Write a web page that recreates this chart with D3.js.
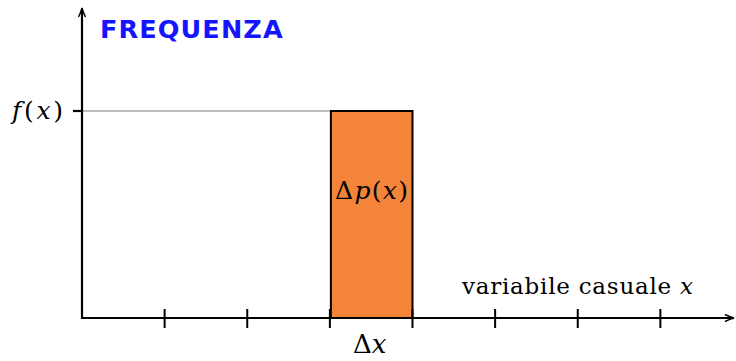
<!DOCTYPE html>
<html>
<head>
<meta charset="utf-8">
<script src="https://cdn.jsdelivr.net/npm/d3@7"></script>
<style>
  html, body { margin: 0; padding: 0; background: #fff; }
  svg { display: block; }
  .serif { font-family: "DejaVu Serif", "Liberation Serif", serif; }
</style>
</head>
<body>
<svg id="chart" width="736" height="361"></svg>
<script>
// Discrete positions along the random variable axis (tick marks)
const xTicks = [1, 2, 3, 4, 5, 6, 7];
// The highlighted interval Δx and its frequency f(x)
const binStart = [3];
const binEnd = [4];
const binFreq = [1];
const yTicks = [1];

const svg = d3.select("#chart");

const x = d3.scaleLinear().domain([0, 8]).range([82, 743]);
const y = d3.scaleLinear().domain([0, 1]).range([318, 111]);

const xAxisEnd = 734, yAxisTop = 8;

// Guide line from the y axis to the top of the bar
svg.append("line")
  .attr("x1", x(0)).attr("x2", x(binStart[0]))
  .attr("y1", y(binFreq[0])).attr("y2", y(binFreq[0]))
  .attr("stroke", "#bdbdbd").attr("stroke-width", 2);

// Bar
svg.selectAll("rect.bin")
  .data(binFreq)
  .join("rect")
  .attr("class", "bin")
  .attr("x", (d, i) => x(binStart[i]) + 1)
  .attr("width", (d, i) => x(binEnd[i]) - x(binStart[i]) - 1)
  .attr("y", d => y(d))
  .attr("height", d => y(0) - y(d))
  .attr("fill", "#f4843a")
  .attr("stroke", "#000")
  .attr("stroke-width", 2);

// Axes
const ax = svg.append("g");
ax.append("line")
  .attr("x1", x(0)).attr("x2", xAxisEnd)
  .attr("y1", y(0)).attr("y2", y(0))
  .attr("stroke", "#000").attr("stroke-width", 2.2);
ax.append("line")
  .attr("x1", x(0)).attr("x2", x(0))
  .attr("y1", y(0) + 1).attr("y2", yAxisTop + 1)
  .attr("stroke", "#000").attr("stroke-width", 2.2);

// Arrow heads
ax.append("path")
  .attr("d", `M${x(0) - 3.5},${yAxisTop + 9} Q${x(0) - 1},${yAxisTop + 4} ${x(0)},${yAxisTop} Q${x(0) + 1},${yAxisTop + 4} ${x(0) + 3.5},${yAxisTop + 9}`)
  .attr("fill", "none").attr("stroke", "#000").attr("stroke-width", 1.4);
ax.append("path")
  .attr("d", `M${xAxisEnd - 9},${y(0) - 3.5} Q${xAxisEnd - 4},${y(0) - 1} ${xAxisEnd},${y(0)} Q${xAxisEnd - 4},${y(0) + 1} ${xAxisEnd - 9},${y(0) + 3.5}`)
  .attr("fill", "none").attr("stroke", "#000").attr("stroke-width", 1.4);

// x ticks (crossing the axis)
ax.selectAll("line.xt")
  .data(xTicks)
  .join("line")
  .attr("class", "xt")
  .attr("x1", d => x(d)).attr("x2", d => x(d))
  .attr("y1", y(0) - 9).attr("y2", y(0) + 10)
  .attr("stroke", "#000").attr("stroke-width", 2);

// y tick and label
ax.selectAll("line.yt")
  .data(yTicks)
  .join("line")
  .attr("class", "yt")
  .attr("x1", x(0) - 9).attr("x2", x(0))
  .attr("y1", d => y(d)).attr("y2", d => y(d))
  .attr("stroke", "#000").attr("stroke-width", 2.2);

const yl = svg.selectAll("text.yl")
  .data(yTicks)
  .join("text")
  .attr("class", "yl serif")
  .attr("x", 12)
  .attr("y", d => y(d) + 8)
  .attr("font-size", 25)
  .attr("textLength", 51)
  .attr("lengthAdjust", "spacing");
yl.append("tspan").attr("font-style", "italic").text("f");
yl.append("tspan").text("(");
yl.append("tspan").attr("font-style", "italic").text("x");
yl.append("tspan").text(")");

// Title
svg.append("text")
  .attr("x", 100).attr("y", 38)
  .attr("font-family", "DejaVu Sans, sans-serif")
  .attr("font-weight", "bold")
  .attr("font-size", 25.5)
  .attr("letter-spacing", 1.1)
  .attr("fill", "#1414ff")
  .text("FREQUENZA");

// Label inside the bar
const pl = svg.append("text")
  .attr("class", "serif")
  .attr("x", 335).attr("y", 199)
  .attr("font-size", 25)
  .attr("textLength", 73)
  .attr("lengthAdjust", "spacing");
pl.append("tspan").text("Δ");
pl.append("tspan").attr("font-style", "italic").text("p");
pl.append("tspan").text("(");
pl.append("tspan").attr("font-style", "italic").text("x");
pl.append("tspan").text(")");

// Δx label below the interval
const dx = svg.append("text")
  .attr("class", "serif")
  .attr("x", 353).attr("y", 353)
  .attr("font-size", 26);
dx.append("tspan").text("Δ");
dx.append("tspan").attr("font-style", "italic").text("x");

// Axis title
const xt = svg.append("text")
  .attr("class", "serif")
  .attr("x", 462).attr("y", 294)
  .attr("font-size", 23)
  .attr("textLength", 231)
  .attr("lengthAdjust", "spacing");
xt.append("tspan").text("variabile casuale ");
xt.append("tspan").attr("font-style", "italic").text("x");
</script>
</body>
</html>
